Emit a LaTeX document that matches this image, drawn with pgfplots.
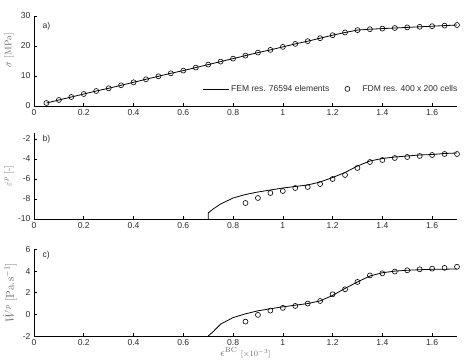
\documentclass[border=0pt]{standalone}
\usepackage{pgfplots}
\pgfplotsset{compat=1.18}
\usepackage{pgfplotstable}
\usepackage{fontspec}
\newfontfamily\hel{Liberation Sans}
\definecolor{tickc}{HTML}{2E2E2E}
\definecolor{labc}{HTML}{6A6A6A}

\pgfplotstableread{
x y
0.05 1.0
0.10 2.0
0.15 3.0
0.20 4.0
0.25 5.0
0.30 5.9
0.35 6.9
0.40 7.9
0.45 8.9
0.50 9.9
0.55 10.9
0.60 11.8
0.65 12.8
0.70 13.8
0.75 14.8
0.80 15.8
0.85 16.8
0.90 17.8
0.95 18.7
1.00 19.7
1.05 20.7
1.10 21.6
1.15 22.6
1.20 23.6
1.25 24.5
1.30 25.3
1.35 25.6
1.40 25.8
1.45 26.0
1.50 26.2
1.55 26.4
1.60 26.6
1.65 26.8
1.70 27.0
}\dataA

\pgfplotstableread{
x y
0.70 -10.0
0.70 -9.4
0.72 -9.0
0.75 -8.5
0.80 -7.9
0.85 -7.55
0.90 -7.3
0.95 -7.1
1.00 -6.9
1.05 -6.75
1.10 -6.6
1.15 -6.3
1.20 -5.85
1.25 -5.35
1.30 -4.7
1.35 -4.2
1.40 -3.95
1.45 -3.8
1.50 -3.7
1.55 -3.6
1.60 -3.55
1.65 -3.45
1.70 -3.4
}\femB

\pgfplotstableread{
x y
0.85 -8.4
0.90 -7.9
0.95 -7.4
1.00 -7.2
1.05 -6.9
1.10 -6.8
1.15 -6.5
1.20 -6.0
1.25 -5.6
1.30 -4.9
1.35 -4.3
1.40 -4.1
1.45 -3.9
1.50 -3.8
1.55 -3.7
1.60 -3.6
1.65 -3.5
1.70 -3.5
}\fdmB

\pgfplotstableread{
x y
0.70 -2.0
0.72 -1.6
0.75 -0.9
0.80 -0.3
0.85 0.05
0.90 0.33
0.95 0.52
1.00 0.70
1.05 0.85
1.10 1.0
1.15 1.25
1.20 1.75
1.25 2.4
1.30 3.0
1.35 3.55
1.40 3.85
1.45 4.0
1.50 4.08
1.55 4.13
1.60 4.17
1.65 4.18
1.70 4.2
}\femC

\pgfplotstableread{
x y
0.85 -0.67
0.90 -0.05
0.95 0.35
1.00 0.60
1.05 0.78
1.10 1.0
1.15 1.24
1.20 1.86
1.25 2.32
1.30 3.0
1.35 3.6
1.40 3.8
1.45 3.96
1.50 4.08
1.55 4.17
1.60 4.23
1.65 4.3
1.70 4.4
}\fdmC

\pgfplotsset{panel/.style={
  scale only axis, width=423pt,
  xmin=0, xmax=1.7,
  axis x line=bottom, axis y line=left,
  axis line style={-, black, line width=0.7pt},
  tick align=inside, major tick length=3pt,
  tick style={black, line width=0.6pt},
  xtick={0,0.2,0.4,0.6,0.8,1,1.2,1.4,1.6},
  xticklabels={0,0.2,0.4,0.6,0.8,1,1.2,1.4,1.6},
  ticklabel style={font=\hel\fontsize{8.6}{10}\selectfont, text=tickc},
  /pgf/number format/assume math mode=true,
  label style={font=\fontsize{9.5}{11}\selectfont, text=labc},
  clip=false,
  anchor=south west,
}}
\pgfplotsset{fem/.style={black, line width=0.8pt, no markers}}
\pgfplotsset{femleg/.style={legend image code/.code={\draw[##1] (0cm,0cm) -- (0.92cm,0cm);}}}
\pgfplotsset{fdmleg/.style={legend image code/.code={\node[draw=none, fill=none, inner sep=0pt, minimum width=0.92cm, minimum height=1pt] at (0.46cm,0cm) {}; \draw[##1, only marks] plot coordinates {(0.46cm,0cm)};}}}
\pgfplotsset{fdm/.style={only marks, mark=o, mark size=2.5pt, black, mark options={line width=0.6pt}}}

\begin{document}
\begin{tikzpicture}
\useasboundingbox (0,0) rectangle (469pt,-364pt);

% panel a
\begin{axis}[panel, at={(34pt,-106pt)}, height=90pt,
  ymin=0, ymax=30, ytick={0,10,20,30},
  ylabel={$\bar{\sigma}$ [MPa]},
  ylabel style={at={(axis description cs:-0.059,0.62)}, anchor=center},
  legend columns=2,
  legend style={at={(axis description cs:1.013,0.19)}, anchor=east, draw=none, fill=none,
    font=\hel\fontsize{8.5}{10}\selectfont, text=tickc,
    /tikz/every even column/.append style={column sep=3pt}},
]
\addplot[fem, femleg] table {\dataA};
\addlegendentry{FEM res. 76594 elements}
\addplot[fdm, fdmleg] table {\dataA};
\addlegendentry{FDM res. 400 x 200 cells}
\node[anchor=west, font=\hel\fontsize{8.6}{10}\selectfont, text=tickc] at (axis description cs:0.012,0.885) {a)};
\end{axis}

% panel b
\begin{axis}[panel, at={(34pt,-219pt)}, height=86pt,
  ymin=-10, ymax=-1.4, ytick={-10,-8,-6,-4,-2},
  yticklabels={-10,-8,-6,-4,-2},
  ylabel={$\dot{\varepsilon}^{p}$ [-]},
  ylabel style={at={(axis description cs:-0.059,0.5)}, anchor=center},
]
\addplot[fem] table {\femB};
\addplot[fdm] table {\fdmB};
\node[anchor=west, font=\hel\fontsize{8.6}{10}\selectfont, text=tickc] at (axis description cs:0.012,0.93) {b)};
\end{axis}

% panel c
\begin{axis}[panel, at={(34pt,-336pt)}, height=86.5pt,
  ymin=-2, ymax=6, ytick={-2,0,2,4,6},
  yticklabels={-2,0,2,4,6},
  ylabel={$\dot{W}^{p}$ [Pa.s$^{-1}$]},
  ylabel style={at={(axis description cs:-0.057,0.5)}, anchor=center, font=\fontsize{11.5}{13}\selectfont},
  xlabel={$\epsilon^{\mathrm{BC}}$ {\fontsize{8}{9}\selectfont[$\times10^{-3}$]}},
  xlabel style={at={(axis description cs:0.5,-0.19)}, anchor=center, font=\fontsize{10.5}{12}\selectfont},
]
\addplot[fem] table {\femC};
\addplot[fdm] table {\fdmC};
\node[anchor=west, font=\hel\fontsize{8.6}{10}\selectfont, text=tickc] at (axis description cs:0.012,0.934) {c)};
\end{axis}
\end{tikzpicture}
\end{document}
